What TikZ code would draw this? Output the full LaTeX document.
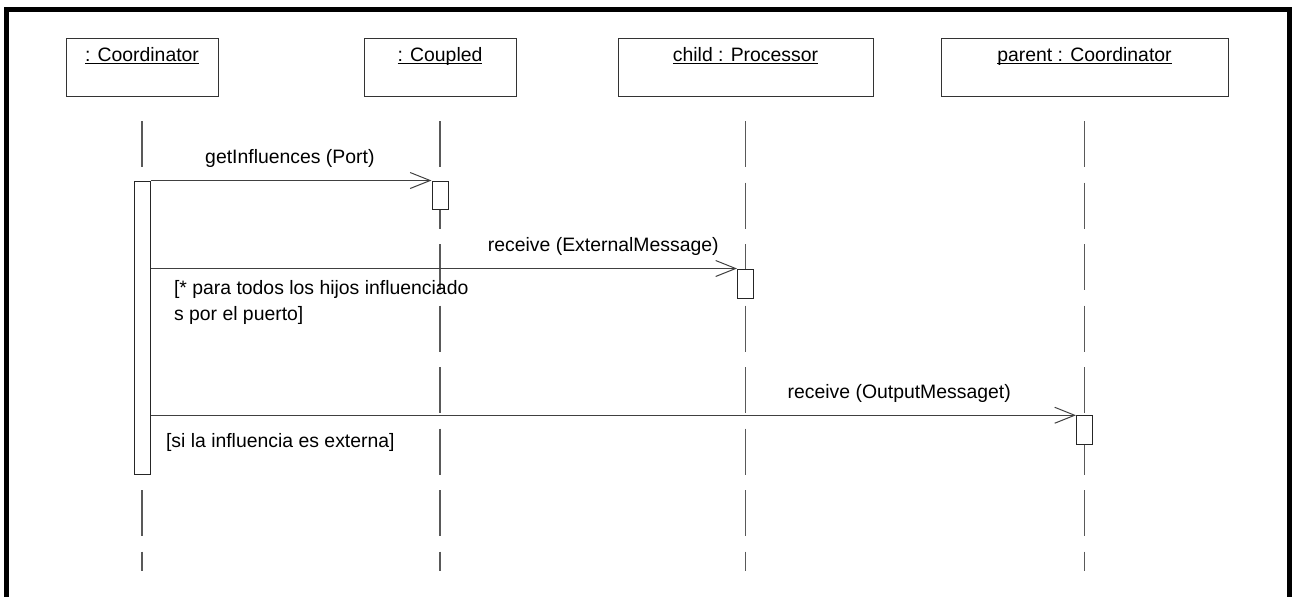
\documentclass[tikz,border=0pt]{standalone}
\usepackage{fontspec}
\setmainfont{Liberation Sans}
\usetikzlibrary{arrows.meta, positioning}
\newcommand{\ulname}[1]{\underline{\smash{#1}}}

\begin{document}
\begin{tikzpicture}[x=0.5pt, y=-0.5pt, font=\fontsize{9.7}{13}\selectfont,
        >={Straight Barb[length=10pt,width=8pt]},
        object/.style={draw=black!80, line width=0.5pt, anchor=north, minimum height=29pt, inner sep=0pt},
        title/.style={anchor=base, yshift=-11.5pt, inner sep=0pt},
        lifeline/.style={draw=black!65, line width=0.7pt, dash pattern=on 23pt off 7.75pt},
        activation/.style={draw=black!85, fill=white, line width=0.5pt, minimum width=8pt, inner sep=0pt},
        message/.style={->, draw=black!75, line width=0.5pt},
        msg/.style={anchor=base, yshift=8.3pt, inner sep=0pt},
        guard/.style={anchor=base west, align=left, inner sep=0pt}]
                \useasboundingbox (0,0) rectangle (1292,596);
                \draw[line width=2.5pt] (6,600) -- (6,9.5) -- (1289.5,9.5) -- (1289.5,600);

                \node[object, minimum width=76pt] (coord) at (142,38) {};
                \node[object, minimum width=76pt] (coupled) at (440,38) {};
                \node[object, minimum width=127.5pt] (child) at (745.5,38) {};
                \node[object, minimum width=143.5pt] (parent) at (1084.5,38) {};
                \node[title] (coordname) at (coord.north) {\ulname{: Coordinator}};
                \node[title] (coupledname) at (coupled.north) {\ulname{: Coupled}};
                \node[title] (childname) at (child.north) {\ulname{child : Processor}};
                \node[title] (parentname) at (parent.north) {\ulname{parent : Coordinator}};

                \coordinate (bottom) at (0,571);
                \foreach \obj in {coord, coupled, child, parent}
                    \draw[lifeline] ([yshift=-12pt]\obj.south) -- (\obj.south |- bottom);

                \node[activation, minimum height=146.5pt] (coordact) at (142,327.5) {};
                \node[activation, minimum height=14pt] (coupledact) at (440,195) {};
                \node[activation, minimum height=14.5pt] (childact) at (745.5,283.5) {};
                \node[activation, minimum height=14.25pt] (parentact) at (1084.5,430) {};

                \path
                (coordact.north east) edge[message] node[msg, pos=0.496] {getInfluences (Port)} (coupledact.north west)
                (coordact.east |- childact.north) edge[message] node[msg, pos=0.772] {receive (ExternalMessage)}
                    node[guard, pos=0, xshift=11.5pt, yshift=-26pt] {[* para todos los hijos influenciado\\s por el puerto]} (childact.north west)
                (coordact.east |- parentact.north) edge[message] node[msg, pos=0.809] {receive (OutputMessaget)}
                    node[guard, pos=0, xshift=7.5pt, yshift=-16pt] {[si la influencia es externa]} (parentact.north west)
                ;
            \end{tikzpicture}
\end{document}
